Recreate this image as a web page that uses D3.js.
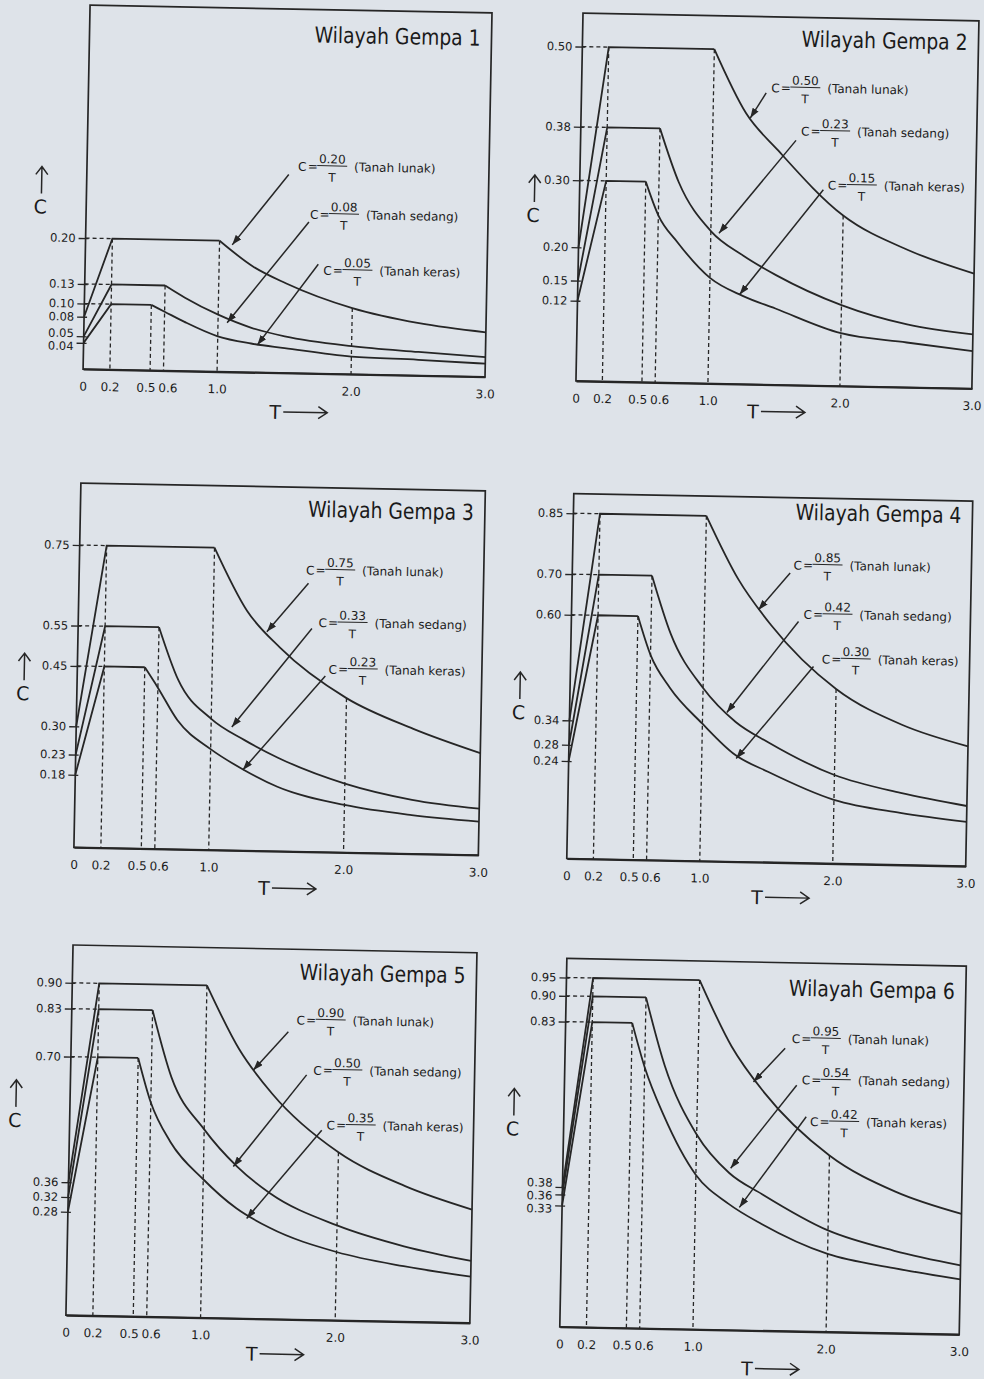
<!DOCTYPE html>
<html>
<head>
<meta charset="utf-8">
<script src="https://cdn.jsdelivr.net/npm/d3@7"></script>
<style>
  body { margin:0; background:#dee3e9; }
  svg { display:block; }
  text { font-family:"DejaVu Sans", Verdana, sans-serif; fill:#1a1a1a; }
  .frame { fill:none; stroke:#262626; stroke-width:1.7; }
  .curve { fill:none; stroke:#262626; stroke-width:1.8; }
  .guide { stroke:#262626; stroke-width:1.3; stroke-dasharray:4,3; fill:none; }
  .ann { stroke:#262626; stroke-width:1.5; fill:none; }
</style>
</head>
<body>
<script>

  // ---- data ----
  var zones = ["Wilayah Gempa 1", "Wilayah Gempa 2", "Wilayah Gempa 3",
               "Wilayah Gempa 4", "Wilayah Gempa 5", "Wilayah Gempa 6"];
  var soils = ["Tanah lunak", "Tanah sedang", "Tanah keras"];

  var xTicks = [0, 0.2, 0.5, 0.6, 1.0, 2.0, 3.0];
  var xTickLabels = ["0", "0.2", "0.5", "0.6", "1.0", "2.0", "3.0"];

  var yTicks = [
    [0.20, 0.13, 0.10, 0.08, 0.05, 0.04],
    [0.50, 0.38, 0.30, 0.20, 0.15, 0.12],
    [0.75, 0.55, 0.45, 0.30, 0.23, 0.18],
    [0.85, 0.70, 0.60, 0.34, 0.28, 0.24],
    [0.90, 0.83, 0.70, 0.36, 0.32, 0.28],
    [0.95, 0.90, 0.83, 0.38, 0.36, 0.33]
  ];

  // C at T = 0 (lunak, sedang, keras)
  var startC = [
    [0.08, 0.05, 0.04], [0.20, 0.15, 0.12], [0.30, 0.23, 0.18],
    [0.34, 0.28, 0.24], [0.36, 0.32, 0.28], [0.38, 0.36, 0.33]
  ];
  // plateau value (lunak, sedang, keras)
  var plateauC = [
    [0.20, 0.13, 0.10], [0.50, 0.38, 0.30], [0.75, 0.55, 0.45],
    [0.85, 0.70, 0.60], [0.90, 0.83, 0.70], [0.95, 0.90, 0.83]
  ];
  var rampEndT = 0.2;
  var cornerT = [1.0, 0.6, 0.5];

  // numerators of C = Ar / T
  var arLabels = [
    ["0.20", "0.08", "0.05"], ["0.50", "0.23", "0.15"], ["0.75", "0.33", "0.23"],
    ["0.85", "0.42", "0.30"], ["0.90", "0.50", "0.35"], ["0.95", "0.54", "0.42"]
  ];

  // descending branches
  var tailTLunak  = [1.0, 1.25, 1.5, 2.0, 2.5, 3.0];
  var tailTSedang = [0.6, 0.75, 1.0, 1.25, 1.5, 2.0, 2.5, 3.0];
  var tailTKeras  = [0.5, 0.6, 0.75, 1.0, 1.25, 1.5, 2.0, 2.5, 3.0];

  var tailLunak = [
    [0.20, 0.162, 0.137, 0.101, 0.080, 0.068],
    [0.50, 0.405, 0.350, 0.255, 0.205, 0.172],
    [0.75, 0.595, 0.505, 0.383, 0.310, 0.253],
    [0.85, 0.695, 0.585, 0.430, 0.345, 0.295],
    [0.90, 0.728, 0.610, 0.455, 0.367, 0.307],
    [0.95, 0.771, 0.648, 0.480, 0.385, 0.328]
  ];
  var tailSedang = [
    [0.13, 0.112, 0.087, 0.068, 0.056, 0.043, 0.036, 0.030],
    [0.38, 0.300, 0.228, 0.192, 0.164, 0.121, 0.094, 0.081],
    [0.55, 0.420, 0.325, 0.274, 0.232, 0.171, 0.134, 0.115],
    [0.70, 0.557, 0.426, 0.344, 0.295, 0.218, 0.177, 0.148],
    [0.83, 0.649, 0.510, 0.411, 0.340, 0.257, 0.204, 0.168],
    [0.90, 0.716, 0.530, 0.427, 0.371, 0.276, 0.224, 0.188]
  ];
  var tailKeras = [
    [0.10, 0.090, 0.075, 0.054, 0.044, 0.038, 0.027, 0.024, 0.020],
    [0.30, 0.250, 0.210, 0.158, 0.132, 0.114, 0.079, 0.067, 0.056],
    [0.45, 0.400, 0.320, 0.250, 0.200, 0.160, 0.118, 0.096, 0.083],
    [0.60, 0.505, 0.425, 0.338, 0.263, 0.223, 0.157, 0.128, 0.109],
    [0.70, 0.580, 0.475, 0.375, 0.298, 0.247, 0.185, 0.150, 0.125],
    [0.83, 0.710, 0.580, 0.420, 0.343, 0.290, 0.212, 0.177, 0.150]
  ];

  // ---- layout (page is a slightly rotated scan) ----
  var layout = [
    {left:77,  right:479,   top:13,    bottom:377,    topTickY:246,   titleDy:33,   tX:1.44,  tDy:39, cDx:46, cAt:0.247},
    {left:570, right:966,   top:11.6,  bottom:379.4,  topTickY:45,    titleDy:29.3, tX:1.345, tDy:27, cDx:46, cAt:0.247},
    {left:77,  right:481.5, top:491,   bottom:855.3,  topTickY:553,   titleDy:29.4, tX:1.415, tDy:37, cDx:54, cAt:0.380},
    {left:570, right:969,   top:492,   bottom:857,    topTickY:511.7, titleDy:22,   tX:1.436, tDy:35, cDx:51, cAt:0.358},
    {left:78,  right:482,   top:953,   bottom:1323.2, topTickY:990.8, titleDy:30.5, tX:1.384, tDy:35, cDx:55, cAt:0.526},
    {left:572, right:971.5, top:957,   bottom:1325.4, topTickY:976,   titleDy:33,   tX:1.411, tDy:38, cDx:51, cAt:0.537}
  ];
  var titleWidth = 166;

  // formula label anchor, arrow start, arrow tip in (T, C) units
  var labelAt = [
    [[1.576,0.316],[1.671,0.243],[1.779,0.158]],
    [[1.437,0.444],[1.669,0.380],[1.879,0.300]],
    [[1.683,0.699],[1.782,0.569],[1.864,0.454]],
    [[1.662,0.733],[1.744,0.612],[1.888,0.503]],
    [[1.671,0.811],[1.802,0.676],[1.909,0.528]],
    [[1.700,0.796],[1.781,0.684],[1.850,0.571]]
  ];
  var arrowFrom = [
    [[1.507,0.303],[1.664,0.231],[1.740,0.167]],
    [[1.399,0.436],[1.632,0.366],[1.846,0.293]],
    [[1.702,0.666],[1.734,0.554],[1.840,0.437]],
    [[1.638,0.713],[1.708,0.594],[1.827,0.484]],
    [[1.611,0.779],[1.753,0.663],[1.873,0.514]],
    [[1.652,0.769],[1.744,0.669],[1.820,0.584]]
  ];
  var arrowTo = [
    [[1.095,0.194],[1.068,0.075],[1.297,0.042]],
    [[1.282,0.398],[1.062,0.225],[1.227,0.134]],
    [[1.400,0.544],[1.154,0.306],[1.241,0.200]],
    [[1.405,0.621],[1.182,0.367],[1.259,0.254]],
    [[1.356,0.673],[1.222,0.411],[1.328,0.271]],
    [[1.419,0.676],[1.260,0.440],[1.331,0.334]]
  ];

  function spread(pos, gap) {
    var p = pos.slice();
    for (var it = 0; it < 80; it++) {
      var moved = false;
      for (var i = 1; i < p.length; i++) {
        var d = p[i] - p[i - 1];
        if (d < gap - 0.01) { var m = (gap - d) / 2; p[i - 1] -= m; p[i] += m; moved = true; }
      }
      if (!moved) break;
    }
    return p;
  }

  var svg = d3.select("body").append("svg")
    .attr("width", 984)
    .attr("height", 1379);

  svg.append("defs").append("marker")
    .attr("id", "head")
    .attr("viewBox", "0 0 10 7")
    .attr("refX", 10).attr("refY", 3.5)
    .attr("markerUnits", "userSpaceOnUse")
    .attr("markerWidth", 10).attr("markerHeight", 7)
    .attr("orient", "auto")
  .append("path")
    .attr("d", "M0,0 L10,3.5 L0,7 Z")
    .attr("fill", "#262626");

  var page = svg.append("g").attr("transform", "rotate(1.1,492,690)");

  zones.forEach(function(name, z) {
    var L = layout[z];
    var x = d3.scaleLinear().domain([0, 3]).range([L.left, L.right]);
    var y = d3.scaleLinear().domain([0, yTicks[z][0]]).range([L.bottom, L.topTickY]);
    var g = page.append("g");

    g.append("rect").attr("class", "frame")
      .attr("x", x(0)).attr("y", L.top)
      .attr("width", x(3) - x(0)).attr("height", L.bottom - L.top);

    // dashed guides
    var tails = [
      {t: tailTLunak,  c: tailLunak[z]},
      {t: tailTSedang, c: tailSedang[z]},
      {t: tailTKeras,  c: tailKeras[z]}
    ];
    soils.forEach(function(s, i) {
      g.append("line").attr("class", "guide")
        .attr("x1", x(0)).attr("x2", x(rampEndT))
        .attr("y1", y(plateauC[z][i])).attr("y2", y(plateauC[z][i]));
      g.append("line").attr("class", "guide")
        .attr("x1", x(cornerT[i])).attr("x2", x(cornerT[i]))
        .attr("y1", y(plateauC[z][i])).attr("y2", y(0));
    });
    g.append("line").attr("class", "guide")
      .attr("x1", x(rampEndT)).attr("x2", x(rampEndT))
      .attr("y1", y(d3.max(plateauC[z]))).attr("y2", y(0));
    var i2 = tailTLunak.indexOf(2.0);
    g.append("line").attr("class", "guide")
      .attr("x1", x(2.0)).attr("x2", x(2.0))
      .attr("y1", y(tailLunak[z][i2])).attr("y2", y(0));

    // spectra
    var straight = d3.line().x(function(d) { return x(d[0]); }).y(function(d) { return y(d[1]); });
    var smooth = d3.line().x(function(d) { return x(d[0]); }).y(function(d) { return y(d[1]); })
      .curve(d3.curveMonotoneX);
    soils.forEach(function(s, i) {
      g.append("path").attr("class", "curve")
        .attr("d", straight([[0, startC[z][i]], [rampEndT, plateauC[z][i]], [cornerT[i], plateauC[z][i]]]));
      var pts = tails[i].t.map(function(t, k) { return [t, tails[i].c[k]]; });
      g.append("path").attr("class", "curve").attr("d", smooth(pts));
    });

    // y axis ticks
    var ya = g.append("g")
      .attr("transform", "translate(" + x(0) + ",0)")
      .call(d3.axisLeft(y).tickValues(yTicks[z]).tickFormat(d3.format(".2f"))
        .tickSizeInner(7).tickSizeOuter(0).tickPadding(3));
    ya.attr("font-family", '"DejaVu Sans", Verdana, sans-serif').attr("font-size", 11.5)
      .style("color", "#1a1a1a");
    ya.select(".domain").remove();
    ya.selectAll(".tick line").attr("x1", 3).attr("stroke", "#262626").attr("stroke-width", 1.3);
    var yPos = yTicks[z].map(function(v) { return y(v); });
    var ySpread = spread(yPos, 13);
    ya.selectAll(".tick text").attr("y", function(d, k) { return ySpread[k] - yPos[k]; });

    // x axis
    var xa = g.append("g")
      .attr("transform", "translate(0," + y(0) + ")")
      .call(d3.axisBottom(x).tickValues(xTicks)
        .tickFormat(function(d, k) { return xTickLabels[k]; })
        .tickSize(0).tickPadding(13));
    xa.attr("font-family", '"DejaVu Sans", Verdana, sans-serif').attr("font-size", 12)
      .style("color", "#1a1a1a");
    xa.select(".domain").attr("stroke", "#262626").attr("stroke-width", 2);
    var xPos = xTicks.map(function(v) { return x(v); });
    var xSpread = spread(xPos, 22);
    xa.selectAll(".tick text").attr("x", function(d, k) { return xSpread[k] - xPos[k]; });

    // title, squeezed horizontally like the scan
    var tg = g.append("g");
    var title = tg.append("text").attr("text-anchor", "end").style("font-size", "22px").text(name);
    var sx = titleWidth / title.node().getComputedTextLength();
    tg.attr("transform", "translate(" + (x(3) - 11) + "," + (L.top + L.titleDy) + ") scale(" + sx + ",1)");

    // formula labels with arrows
    soils.forEach(function(s, i) {
      var a = g.append("g")
        .attr("transform", "translate(" + x(labelAt[z][i][0]) + "," + y(labelAt[z][i][1]) + ")")
        .style("font-size", "12px");
      a.append("text").attr("x", 0).attr("y", 4.5).text("C");
      a.append("text").attr("x", 9.5).attr("y", 4).text("=");
      a.append("text").attr("x", 34).attr("y", -3.5).attr("text-anchor", "middle").text(arLabels[z][i]);
      a.append("line").attr("x1", 19).attr("x2", 49).attr("y1", -1).attr("y2", -1)
        .attr("stroke", "#262626").attr("stroke-width", 1);
      a.append("text").attr("x", 34).attr("y", 15).attr("text-anchor", "middle").text("T");
      a.append("text").attr("x", 56).attr("y", 4).text("(" + s + ")");

      g.append("line").attr("class", "ann")
        .attr("x1", x(arrowFrom[z][i][0])).attr("y1", y(arrowFrom[z][i][1]))
        .attr("x2", x(arrowTo[z][i][0])).attr("y2", y(arrowTo[z][i][1]))
        .attr("marker-end", "url(#head)");
    });

    // axis names
    var tx = x(L.tX), ty = y(0) + L.tDy;
    g.append("text").attr("x", tx).attr("y", ty + 7).attr("text-anchor", "middle")
      .style("font-size", "19px").text("T");
    g.append("path").attr("class", "ann")
      .attr("d", "M" + (tx + 8) + "," + ty + " H" + (tx + 52) +
                 " M" + (tx + 43) + "," + (ty - 6) + " L" + (tx + 52) + "," + ty + " L" + (tx + 43) + "," + (ty + 6))
      .attr("stroke-width", 1.3);

    var cx = x(0) - L.cDx, cy = y(L.cAt);
    g.append("text").attr("x", cx).attr("y", cy + 7).attr("text-anchor", "middle")
      .style("font-size", "19px").text("C");
    g.append("path").attr("class", "ann")
      .attr("d", "M" + (cx + 1) + "," + (cy - 13) + " V" + (cy - 40) +
                 " M" + (cx - 5) + "," + (cy - 32) + " L" + (cx + 1) + "," + (cy - 40) + " L" + (cx + 7) + "," + (cy - 32))
      .attr("stroke-width", 1.3);
  });

</script>
</body>
</html>
